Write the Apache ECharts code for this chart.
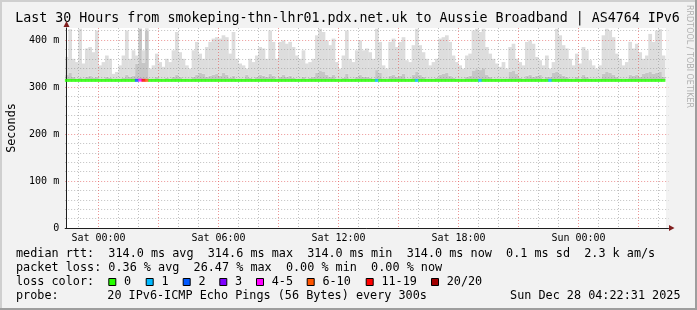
<!DOCTYPE html>
<html><head><meta charset="utf-8">
<script src="https://cdn.jsdelivr.net/npm/echarts@6/dist/echarts.min.js"></script>
<style>html,body{margin:0;padding:0;background:#f2f2f2;}#c{width:697px;height:310px;}</style>
</head><body><div id="c"></div>
<script>
// ---------------- data ----------------
// 10-minute slots, first slot starts Fri 22:20 (graph window Fri 22:22:31 .. Sun 04:22:31)
const slotStartMinutes = 22 * 60 + 20;
const slotMinutes = 10;
const slotCount = 181;
const dayNames = ['Fri', 'Sat', 'Sun'];
const tickLabels = ['Sat 00:00', 'Sat 06:00', 'Sat 12:00', 'Sat 18:00', 'Sun 00:00'];
const yTickLabels = ['0', '100 m', '200 m', '300 m', '400 m'];

// median rtt (ms)
const median = [
314.0,314.0,314.0,314.0,314.0,314.0,314.0,314.0,314.0,314.0,
314.0,314.0,314.0,314.0,314.0,314.0,314.0,314.0,314.0,314.0,
314.0,314.1,314.6,314.2,314.1,314.0,314.0,314.0,314.0,314.0,
314.0,314.0,314.0,314.0,314.0,314.0,314.0,314.0,314.0,314.0,
314.0,314.0,314.0,314.0,314.0,314.0,314.0,314.0,314.0,314.0,
314.0,314.0,314.0,314.0,314.0,314.0,314.0,314.0,314.0,314.0,
314.0,314.0,314.0,314.0,314.0,314.0,314.0,314.0,314.0,314.0,
314.0,314.0,314.0,314.0,314.0,314.0,314.0,314.0,314.0,314.0,
314.0,314.0,314.0,314.0,314.0,314.0,314.0,314.0,314.0,314.0,
314.0,314.0,314.0,314.0,314.0,314.0,314.0,314.0,314.0,314.0,
314.0,314.0,314.0,314.0,314.0,314.0,314.0,314.0,314.0,314.0,
314.0,314.0,314.0,314.0,314.0,314.0,314.0,314.0,314.0,314.0,
314.0,314.0,314.0,314.0,314.0,314.0,314.0,314.0,314.0,314.0,
314.0,314.0,314.0,314.0,314.0,314.0,314.0,314.0,314.0,314.0,
314.0,314.0,314.0,314.0,314.0,314.0,314.0,314.0,314.0,314.0,
314.0,314.0,314.0,314.0,314.0,314.0,314.0,314.0,314.0,314.0,
314.0,314.0,314.0,314.0,314.0,314.0,314.0,314.0,314.0,314.0,
314.0,314.0,314.0,314.0,314.0,314.0,314.0,314.0,314.0,314.0,
null];

// highest ping of each slot (top of the light smoke), ms
const smokeTop = [
364,423,360,353,424,350,382,385,374,420,
346,353,367,360,328,332,346,367,420,360,
378,367,425,378,425,339,346,371,353,343,
360,353,378,417,374,360,346,339,378,396,
371,360,385,396,403,406,403,410,406,371,
417,360,350,346,339,360,353,367,385,382,
360,420,396,360,396,399,392,396,385,367,
360,378,350,353,360,410,424,417,399,389,
403,353,339,367,420,360,353,378,399,378,
382,374,360,424,396,346,339,396,403,385,
396,406,357,353,389,424,389,374,360,346,
353,360,403,406,410,396,367,353,346,339,
367,371,420,424,417,424,385,371,360,350,
343,353,339,385,392,360,353,346,396,399,
392,364,357,346,367,339,353,424,410,389,
382,360,346,371,350,385,378,357,346,339,
346,410,424,420,406,371,360,346,353,396,
382,392,374,360,367,413,396,420,423,367,
null];

// upper edge of the darker inner smoke, ms
const smokeMid = [
326,330,322,318,320,317,322,324,320,322,
318,317,322,320,316,317,318,320,326,322,
324,350,424,352,420,318,317,322,318,316,
320,318,322,326,322,318,317,316,322,326,
330,328,322,324,326,328,324,330,326,320,
324,318,317,318,326,320,318,322,326,324,
322,328,324,318,322,326,322,324,320,318,
317,322,318,320,322,330,334,332,326,322,
326,318,316,320,328,318,317,322,326,322,
322,320,318,336,330,317,316,324,326,322,
324,328,318,317,326,332,326,322,318,317,
318,320,326,328,330,324,320,318,316,316,
322,324,334,338,336,340,326,322,318,317,
316,318,317,332,334,328,320,317,324,326,
322,324,326,318,322,322,330,332,328,324,
322,318,316,322,318,326,322,318,316,316,
317,328,332,330,326,322,318,316,318,326,
324,326,322,328,330,332,328,330,332,322,
null];

// lost pings out of 20 per slot
const lossCount = [
0,0,0,0,0,0,0,0,0,0, 0,0,0,0,0,0,0,0,0,0,
0,2,4,12,8,0,0,0,0,0, 0,0,0,0,0,0,0,0,0,0,
0,0,0,0,0,0,0,0,0,0, 0,0,0,0,0,0,0,0,0,0,
0,0,0,0,0,0,0,0,0,0, 0,0,0,0,0,0,0,0,0,0,
0,0,0,0,0,0,0,0,0,0, 0,0,0,1,0,0,0,0,0,0,
0,0,0,0,0,1,0,0,0,0, 0,0,0,0,0,0,0,0,0,0,
0,0,0,0,1,0,0,0,0,0, 0,0,0,0,0,0,0,0,0,0,
0,0,0,0,0,1,0,0,0,0, 0,0,0,0,0,0,0,0,0,0,
0,0,0,0,0,0,0,0,0,0, 0,0,0,0,0,0,0,0,0,0,
0];

const lossLegend = ['0', '1', '2', '3', '4-5', '6-10', '11-19', '20/20'];
const lossColors = ['#26ff00', '#00b8ff', '#0059ff', '#7e00ff', '#ff00ff', '#ff5500', '#ff0000', '#a10000'];
const lossUpper = [0, 1, 2, 3, 5, 10, 19, 20];

const statsRtt = 'median rtt:  314.0 ms avg  314.6 ms max  314.0 ms min  314.0 ms now  0.1 ms sd  2.3 k am/s';
const statsLoss = 'packet loss: 0.36 % avg  26.47 % max  0.00 % min  0.00 % now';
const probeText = '20 IPv6-ICMP Echo Pings (56 Bytes) every 300s';
const stampText = 'Sun Dec 28 04:22:31 2025';
const titleText = 'Last 30 Hours from smokeping-thn-lhr01.pdx.net.uk to Aussie Broadband | AS4764 IPv6';

// ---------------- derived ----------------
function fmt(mins) {
  const d = Math.floor(mins / 1440), m = mins % 1440;
  return dayNames[d] + ' ' + String(Math.floor(m / 60)).padStart(2, '0') + ':' + String(m % 60).padStart(2, '0');
}
const categories = [], boundaries = [];
for (let k = 0; k < slotCount; k++) categories.push(fmt(slotStartMinutes + k * slotMinutes));
for (let k = 0; k <= slotCount; k++) boundaries.push(fmt(slotStartMinutes + k * slotMinutes));
function hourOf(v) { return parseInt(v.slice(4, 6), 10); }
function minOf(v) { return parseInt(v.slice(7, 9), 10); }
function lossColor(n) { for (let i = 0; i < lossUpper.length; i++) if (n <= lossUpper[i]) return lossColors[i]; return lossColors[lossColors.length - 1]; }

const baseData = median.map(v => v);
const midData = smokeMid.map((v, i) => v == null ? null : v - median[i]);
const topData = smokeTop.map((v, i) => v == null ? null : v - smokeMid[i]);
const medianData = median.map((v, i) => v == null ? null : { value: v, itemStyle: { color: lossColor(lossCount[i]) } });

// ---------------- layout ----------------
const FONT = '"DejaVu Sans Mono", monospace';
const gridLeft = 65.16, gridRight = 697 - 668.5, gridTop = 28, gridBottom = 82;
const yMax = 200 / 0.47;
const slotPx = (668.5 - 65.16) / slotCount;

const chart = echarts.init(document.getElementById('c'), null, { renderer: 'canvas' });

const legendY = [254, 268, 282, 296];
const squareX = [108.3, 145.7, 182.7, 219.3, 256, 306.7, 365.7, 431];
const LF = '11.8px ' + FONT;
const graphics = [
  { type: 'rect', z: -10, shape: { x: 0, y: 0, width: 697, height: 2 }, style: { fill: '#cfcfcf' } },
  { type: 'rect', z: -10, shape: { x: 0, y: 0, width: 2, height: 310 }, style: { fill: '#cfcfcf' } },
  { type: 'rect', z: -10, shape: { x: 0, y: 308, width: 697, height: 2 }, style: { fill: '#9e9e9e' } },
  { type: 'rect', z: -10, shape: { x: 695, y: 0, width: 2, height: 310 }, style: { fill: '#9e9e9e' } },
  { type: 'rect', z: -10, shape: { x: 66, y: 28, width: 600, height: 200 }, style: { fill: '#ffffff' } },
  { type: 'polygon', z: 50, shape: { points: [[669, 225], [669, 231], [674.5, 228]] }, style: { fill: '#801f1f' } },
  { type: 'polygon', z: 50, shape: { points: [[63.5, 27], [69.5, 27], [66.5, 21]] }, style: { fill: '#801f1f' } },
  { type: 'text', x: 347.5, y: 19, style: { text: titleText, font: '13.3px ' + FONT, fill: '#000', align: 'center', verticalAlign: 'middle' } },
  { type: 'text', x: 689, y: 5, rotation: -Math.PI / 2, style: { text: 'RRDTOOL / TOBI OETIKER', font: '8px "DejaVu Sans", sans-serif', fill: '#b0b0b0', align: 'left', verticalAlign: 'middle' } },
  { type: 'text', x: 16, y: legendY[0], style: { text: statsRtt, font: LF, fill: '#000', verticalAlign: 'middle' } },
  { type: 'text', x: 16, y: legendY[1], style: { text: statsLoss, font: LF, fill: '#000', verticalAlign: 'middle' } },
  { type: 'text', x: 16, y: legendY[2], style: { text: 'loss color:', font: LF, fill: '#000', verticalAlign: 'middle' } },
  { type: 'text', x: 16, y: legendY[3], style: { text: 'probe:', font: LF, fill: '#000', verticalAlign: 'middle' } },
  { type: 'text', x: 107.3, y: legendY[3], style: { text: probeText, font: LF, fill: '#000', verticalAlign: 'middle' } },
  { type: 'text', x: 680.5, y: legendY[3], style: { text: stampText, font: LF, fill: '#000', align: 'right', verticalAlign: 'middle' } }
];
lossLegend.forEach((t, i) => {
  graphics.push({ type: 'rect', shape: { x: squareX[i] + 0.5, y: 278.5, width: 7, height: 7 }, style: { fill: lossColors[i], stroke: '#000', lineWidth: 1 } });
  graphics.push({ type: 'text', x: squareX[i] + 15.7, y: legendY[2], style: { text: t, font: LF, fill: '#000', verticalAlign: 'middle' } });
});

const gridGray = 'rgba(140,140,140,0.55)';
const gridRed = 'rgba(225,80,80,0.6)';

chart.setOption({
  animation: false,
  backgroundColor: 'transparent',
  grid: { left: gridLeft, right: gridRight, top: gridTop, bottom: gridBottom, containLabel: false, outerBoundsMode: 'none' },
  xAxis: [
    { type: 'category', data: categories, boundaryGap: true, show: false },
    { type: 'category', data: boundaries, boundaryGap: false, position: 'bottom', z: 3,
      axisLine: { show: true, lineStyle: { color: '#1f1f1f', width: 1 } },
      axisTick: { show: false }, axisLabel: { show: false },
      splitLine: { show: true, interval: (i, v) => minOf(v) === 0 && hourOf(v) % 3 !== 0,
        lineStyle: { color: gridGray, type: [1, 2], width: 1 } } },
    { type: 'category', data: boundaries, boundaryGap: false, position: 'bottom', z: 3,
      axisLine: { show: false }, axisTick: { show: false },
      axisLabel: { show: true, interval: (i, v) => tickLabels.indexOf(v) >= 0, margin: 5,
        fontFamily: FONT, fontSize: 10, lineHeight: 10, color: '#000' },
      splitLine: { show: true, interval: (i, v) => minOf(v) === 0 && hourOf(v) % 3 === 0,
        lineStyle: { color: gridRed, type: [1, 2], width: 1 } } }
  ],
  yAxis: [
    { type: 'value', min: 0, max: yMax, interval: 100, offset: -1, z: 3,
      name: 'Seconds', nameLocation: 'middle', nameGap: 48.5, nameRotate: 90,
      nameTextStyle: { fontFamily: FONT, fontSize: 11.8, color: '#000' },
      axisLine: { show: true, lineStyle: { color: '#1f1f1f', width: 1 } },
      axisTick: { show: false },
      axisLabel: { margin: 7, fontFamily: FONT, fontSize: 10, color: '#000',
        formatter: v => { const i = Math.round(v / 100); return (Math.abs(v - i * 100) < 1e-6 && i < yTickLabels.length) ? yTickLabels[i] : ''; } },
      splitLine: { show: true, showMaxLine: false, showMinLine: false, lineStyle: { color: gridRed, type: [1, 2], width: 1 } },
      minorTick: { show: false, splitNumber: 5 },
      minorSplitLine: { show: true, lineStyle: { color: gridGray, type: [1, 2], width: 1 } } }
  ],
  series: [
    { name: 'base', type: 'bar', stack: 'smoke', data: baseData, xAxisIndex: 0, barWidth: slotPx + 0.4,
      barCategoryGap: '0%', itemStyle: { color: 'transparent' }, silent: true },
    { name: 'smokeInner', type: 'bar', stack: 'smoke', data: midData, xAxisIndex: 0, barWidth: slotPx + 0.4,
      itemStyle: { color: '#c6c6c6' }, silent: true },
    { name: 'smokeOuter', type: 'bar', stack: 'smoke', data: topData, xAxisIndex: 0, barWidth: slotPx + 0.4,
      itemStyle: { color: '#dddddd' }, silent: true },
    { name: 'median', type: 'scatter', data: medianData, xAxisIndex: 0, z: 5,
      symbol: 'rect', symbolSize: [slotPx + 0.5, 3], silent: true }
  ],
  graphic: { elements: graphics }
});
</script>
</body></html>
